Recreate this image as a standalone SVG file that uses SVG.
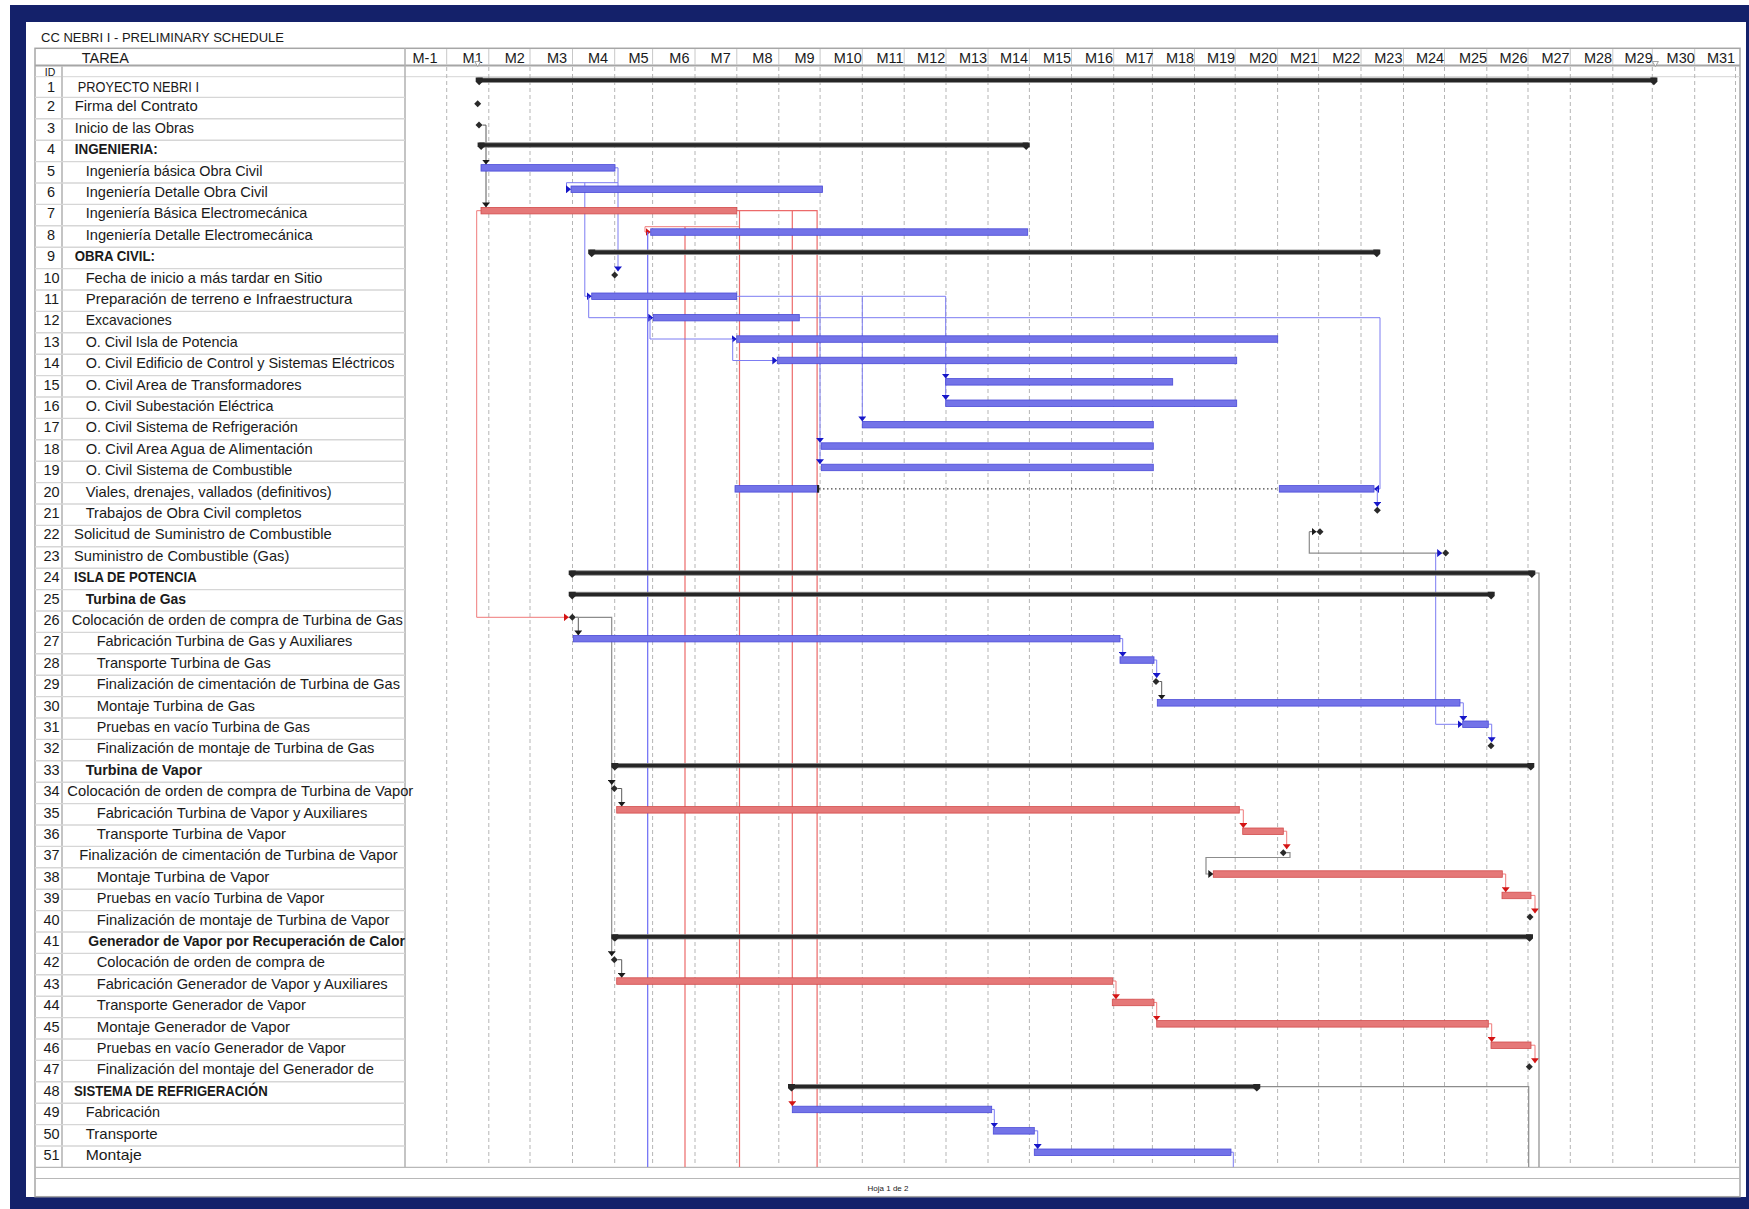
<svg xmlns="http://www.w3.org/2000/svg" xmlns:xlink="http://www.w3.org/1999/xlink" width="1749" height="1209" viewBox="0 0 1749 1209">
<style>
text{font-family:"Liberation Sans",Arial,sans-serif;fill:#1a1a1a}
.n{font-size:14.5px;text-anchor:middle}
.t{font-size:14.5px}
.b{font-weight:bold}
.mh{font-size:14.5px;text-anchor:middle}
.bb{fill:#7373e8;stroke:#4b4bd8;stroke-width:0.8}
.rb{fill:#e57878;stroke:#d24b4b;stroke-width:0.8}
.sm{fill:#262626;stroke:#8a8a8a;stroke-width:0.8}
.cap{fill:#262626}
.ms{fill:#2a2a2a}
.lb{fill:none;stroke:#7c7cf2;stroke-width:1}
.lr{fill:none;stroke:#ef7a7a;stroke-width:1}
.lk{fill:none;stroke:#5a5a5a;stroke-width:1}
.lg{fill:none;stroke:#8c8c8c;stroke-width:1.2}
.vb{fill:none;stroke:#6b6bf5;stroke-width:1.2}
.vr{fill:none;stroke:#ec6a6a;stroke-width:1.2}
.grid line{stroke:#b5b5b5;stroke-width:1;stroke-dasharray:4 3}
.hd line{stroke:#c8c8c8;stroke-width:1}
.rl line{stroke:#d6d6d6;stroke-width:1.4}
.fr{fill:none;stroke:#a6a6a6;stroke-width:1.5}
</style>
<defs>
<marker id="mB" viewBox="0 0 5 8" refX="5" refY="4" markerWidth="5" markerHeight="8" markerUnits="userSpaceOnUse" orient="auto"><path d="M0,0 L5,4 L0,8 Z" fill="#1616c8"/></marker>
<marker id="mR" viewBox="0 0 5 8" refX="5" refY="4" markerWidth="5" markerHeight="8" markerUnits="userSpaceOnUse" orient="auto"><path d="M0,0 L5,4 L0,8 Z" fill="#d41414"/></marker>
<marker id="mK" viewBox="0 0 5 8" refX="5" refY="4" markerWidth="5" markerHeight="8" markerUnits="userSpaceOnUse" orient="auto"><path d="M0,0 L5,4 L0,8 Z" fill="#1a1a1a"/></marker>
<path id="dia" d="M0,-3.5 L3.5,0 L0,3.5 L-3.5,0 Z"/>
<path id="cap" d="M-3.5,-2.6 H3.5 V1.6 L0,5 L-3.5,1.6 Z"/>
</defs>

<!-- background and frame -->
<rect x="0" y="0" width="1749" height="1209" fill="#ffffff"/>
<rect x="10" y="5" width="1739" height="1204" fill="#14216a"/>
<rect x="26" y="22" width="1720" height="1175" fill="#ffffff"/>
<text x="41" y="41.7" style="font-size:13px">CC NEBRI I - PRELIMINARY SCHEDULE</text>
<rect class="fr" x="35" y="48.3" width="1705" height="1148.4"/>
<line x1="35" y1="65.5" x2="1740" y2="65.5" stroke="#a6a6a6" stroke-width="2"/>
<line x1="35" y1="76.7" x2="1740" y2="76.7" stroke="#d6d6d6" stroke-width="1"/>
<line x1="405" y1="48.3" x2="405" y2="1167.4" stroke="#b0b0b0" stroke-width="1.5"/>
<line x1="62" y1="66" x2="62" y2="1167.4" stroke="#c4c4c4" stroke-width="2"/>
<line x1="35" y1="1167.4" x2="1740" y2="1167.4" stroke="#b8b8b8" stroke-width="1.2"/>
<line x1="35" y1="1178.5" x2="1740" y2="1178.5" stroke="#b8b8b8" stroke-width="1.2"/>
<text x="888" y="1190.5" style="font-size:8px;text-anchor:middle">Hoja 1 de 2</text>

<!-- header -->
<g id="header">
<text x="81.7" y="63" class="t">TAREA</text>
<g class="hd">
<line x1="446.7" y1="49" x2="446.7" y2="65"/><line x1="488.8" y1="49" x2="488.8" y2="65"/><line x1="530" y1="49" x2="530" y2="65"/><line x1="572.5" y1="49" x2="572.5" y2="65"/><line x1="614.7" y1="49" x2="614.7" y2="65"/><line x1="652.6" y1="49" x2="652.6" y2="65"/><line x1="695" y1="49" x2="695" y2="65"/><line x1="736.8" y1="49" x2="736.8" y2="65"/><line x1="778.8" y1="49" x2="778.8" y2="65"/><line x1="820.1" y1="49" x2="820.1" y2="65"/><line x1="862.3" y1="49" x2="862.3" y2="65"/><line x1="904.2" y1="49" x2="904.2" y2="65"/><line x1="946" y1="49" x2="946" y2="65"/><line x1="988" y1="49" x2="988" y2="65"/><line x1="1029.4" y1="49" x2="1029.4" y2="65"/><line x1="1071.5" y1="49" x2="1071.5" y2="65"/><line x1="1113.7" y1="49" x2="1113.7" y2="65"/><line x1="1152.4" y1="49" x2="1152.4" y2="65"/><line x1="1194.5" y1="49" x2="1194.5" y2="65"/><line x1="1235.2" y1="49" x2="1235.2" y2="65"/><line x1="1277.6" y1="49" x2="1277.6" y2="65"/><line x1="1318.6" y1="49" x2="1318.6" y2="65"/><line x1="1361" y1="49" x2="1361" y2="65"/><line x1="1403.5" y1="49" x2="1403.5" y2="65"/><line x1="1444.5" y1="49" x2="1444.5" y2="65"/><line x1="1486.8" y1="49" x2="1486.8" y2="65"/><line x1="1528" y1="49" x2="1528" y2="65"/><line x1="1570.3" y1="49" x2="1570.3" y2="65"/><line x1="1612.8" y1="49" x2="1612.8" y2="65"/><line x1="1652.3" y1="49" x2="1652.3" y2="65"/><line x1="1694.7" y1="49" x2="1694.7" y2="65"/>
</g>
<text class="mh" x="425" y="63">M-1</text><text class="mh" x="472.7" y="63">M1</text><text class="mh" x="514.8" y="63">M2</text><text class="mh" x="557" y="63">M3</text><text class="mh" x="598" y="63">M4</text><text class="mh" x="638.5" y="63">M5</text><text class="mh" x="679.4" y="63">M6</text><text class="mh" x="720.7" y="63">M7</text><text class="mh" x="762.4" y="63">M8</text><text class="mh" x="804.5" y="63">M9</text><text class="mh" x="847.8" y="63">M10</text><text class="mh" x="890" y="63">M11</text><text class="mh" x="931.2" y="63">M12</text><text class="mh" x="973" y="63">M13</text><text class="mh" x="1014" y="63">M14</text><text class="mh" x="1057" y="63">M15</text><text class="mh" x="1099" y="63">M16</text><text class="mh" x="1139.5" y="63">M17</text><text class="mh" x="1180" y="63">M18</text><text class="mh" x="1221" y="63">M19</text><text class="mh" x="1263" y="63">M20</text><text class="mh" x="1304" y="63">M21</text><text class="mh" x="1346.3" y="63">M22</text><text class="mh" x="1388.4" y="63">M23</text><text class="mh" x="1430" y="63">M24</text><text class="mh" x="1473" y="63">M25</text><text class="mh" x="1513.5" y="63">M26</text><text class="mh" x="1555.5" y="63">M27</text><text class="mh" x="1598" y="63">M28</text><text class="mh" x="1638.6" y="63">M29</text><text class="mh" x="1680.7" y="63">M30</text><text class="mh" x="1721" y="63">M31</text>
<polygon points="474.7,61.5 480.7,61.5 477.7,66.5" fill="#ffffff" stroke="#8c8c8c" stroke-width="0.8"/>
<polygon points="1652.4,61.5 1658.4,61.5 1655.4,66.5" fill="#ffffff" stroke="#8c8c8c" stroke-width="0.8"/>
<text class="n" x="50" y="76" style="font-size:10.5px">ID</text>
</g>

<!-- row separators in the task table -->
<g class="rl">
<line x1="35" y1="97.4" x2="405" y2="97.4"/><line x1="35" y1="118.8" x2="405" y2="118.8"/><line x1="35" y1="140.2" x2="405" y2="140.2"/><line x1="35" y1="161.6" x2="405" y2="161.6"/><line x1="35" y1="183" x2="405" y2="183"/><line x1="35" y1="204.4" x2="405" y2="204.4"/><line x1="35" y1="225.8" x2="405" y2="225.8"/><line x1="35" y1="247.2" x2="405" y2="247.2"/><line x1="35" y1="268.6" x2="405" y2="268.6"/><line x1="35" y1="290" x2="405" y2="290"/><line x1="35" y1="311.4" x2="405" y2="311.4"/><line x1="35" y1="332.8" x2="405" y2="332.8"/><line x1="35" y1="354.2" x2="405" y2="354.2"/><line x1="35" y1="375.6" x2="405" y2="375.6"/><line x1="35" y1="397" x2="405" y2="397"/><line x1="35" y1="418.4" x2="405" y2="418.4"/><line x1="35" y1="439.8" x2="405" y2="439.8"/><line x1="35" y1="461.2" x2="405" y2="461.2"/><line x1="35" y1="482.6" x2="405" y2="482.6"/><line x1="35" y1="504" x2="405" y2="504"/><line x1="35" y1="525.4" x2="405" y2="525.4"/><line x1="35" y1="546.8" x2="405" y2="546.8"/><line x1="35" y1="568.2" x2="405" y2="568.2"/><line x1="35" y1="589.6" x2="405" y2="589.6"/><line x1="35" y1="611" x2="405" y2="611"/><line x1="35" y1="632.4" x2="405" y2="632.4"/><line x1="35" y1="653.8" x2="405" y2="653.8"/><line x1="35" y1="675.2" x2="405" y2="675.2"/><line x1="35" y1="696.6" x2="405" y2="696.6"/><line x1="35" y1="718" x2="405" y2="718"/><line x1="35" y1="739.4" x2="405" y2="739.4"/><line x1="35" y1="760.8" x2="405" y2="760.8"/><line x1="35" y1="782.2" x2="405" y2="782.2"/><line x1="35" y1="803.6" x2="405" y2="803.6"/><line x1="35" y1="825" x2="405" y2="825"/><line x1="35" y1="846.4" x2="405" y2="846.4"/><line x1="35" y1="867.8" x2="405" y2="867.8"/><line x1="35" y1="889.2" x2="405" y2="889.2"/><line x1="35" y1="910.6" x2="405" y2="910.6"/><line x1="35" y1="932" x2="405" y2="932"/><line x1="35" y1="953.4" x2="405" y2="953.4"/><line x1="35" y1="974.8" x2="405" y2="974.8"/><line x1="35" y1="996.2" x2="405" y2="996.2"/><line x1="35" y1="1017.6" x2="405" y2="1017.6"/><line x1="35" y1="1039" x2="405" y2="1039"/><line x1="35" y1="1060.4" x2="405" y2="1060.4"/><line x1="35" y1="1081.8" x2="405" y2="1081.8"/><line x1="35" y1="1103.2" x2="405" y2="1103.2"/><line x1="35" y1="1124.6" x2="405" y2="1124.6"/><line x1="35" y1="1146" x2="405" y2="1146"/>
</g>

<!-- month grid -->
<g class="grid">
<line x1="446.7" y1="67" x2="446.7" y2="1166"/><line x1="488.8" y1="67" x2="488.8" y2="1166"/><line x1="530" y1="67" x2="530" y2="1166"/><line x1="572.5" y1="67" x2="572.5" y2="1166"/><line x1="614.7" y1="67" x2="614.7" y2="1166"/><line x1="652.6" y1="67" x2="652.6" y2="1166"/><line x1="695" y1="67" x2="695" y2="1166"/><line x1="736.8" y1="67" x2="736.8" y2="1166"/><line x1="778.8" y1="67" x2="778.8" y2="1166"/><line x1="820.1" y1="67" x2="820.1" y2="1166"/><line x1="862.3" y1="67" x2="862.3" y2="1166"/><line x1="904.2" y1="67" x2="904.2" y2="1166"/><line x1="946" y1="67" x2="946" y2="1166"/><line x1="988" y1="67" x2="988" y2="1166"/><line x1="1029.4" y1="67" x2="1029.4" y2="1166"/><line x1="1071.5" y1="67" x2="1071.5" y2="1166"/><line x1="1113.7" y1="67" x2="1113.7" y2="1166"/><line x1="1152.4" y1="67" x2="1152.4" y2="1166"/><line x1="1194.5" y1="67" x2="1194.5" y2="1166"/><line x1="1235.2" y1="67" x2="1235.2" y2="1166"/><line x1="1277.6" y1="67" x2="1277.6" y2="1166"/><line x1="1318.6" y1="67" x2="1318.6" y2="1166"/><line x1="1361" y1="67" x2="1361" y2="1166"/><line x1="1403.5" y1="67" x2="1403.5" y2="1166"/><line x1="1444.5" y1="67" x2="1444.5" y2="1166"/><line x1="1486.8" y1="67" x2="1486.8" y2="1166"/><line x1="1528" y1="67" x2="1528" y2="1166"/><line x1="1570.3" y1="67" x2="1570.3" y2="1166"/><line x1="1612.8" y1="67" x2="1612.8" y2="1166"/><line x1="1652.3" y1="67" x2="1652.3" y2="1166"/><line x1="1694.7" y1="67" x2="1694.7" y2="1166"/><line x1="1735.5" y1="67" x2="1735.5" y2="1166"/>
</g>

<!-- connectors -->
<g id="connectors">
<path class="vr" d="M736.8,210.7 H817.1 V1167"/>
<path class="vr" d="M739.5,210.7 V1167"/>
<path class="vr" d="M792.3,210.7 V1106.2" marker-end="url(#mR)"/>
<path class="vr" d="M685,226.7 V1167"/>
<path class="lr" d="M739.5,226.7 H645 V232 H650.7" marker-end="url(#mR)"/>
<path class="vb" d="M647.7,232 V1167"/>
<path class="lr" d="M481,210.7 H476.7 V617.3 H568.8" marker-end="url(#mR)"/>
<path class="lk" d="M482.5,125.1 H486 V164.6" marker-end="url(#mK)"/>
<path class="lk" d="M486,164.6 V207.4" marker-end="url(#mK)"/>
<path class="lb" d="M615,167.8 H618 V182.7 H566.5 V189.3 H571" marker-end="url(#mB)"/>
<path class="lb" d="M618,182.7 V271.4" marker-end="url(#mB)"/>
<path class="lb" d="M584.8,182.7 V296.3 H591.7" marker-end="url(#mB)"/>
<path class="lb" d="M588.7,296.3 V317.7 H653.3" marker-end="url(#mB)"/>
<path class="lb" d="M650,317.7 V339 H736.7" marker-end="url(#mB)"/>
<path class="lb" d="M732.7,339 V360.5 H777.3" marker-end="url(#mB)"/>
<path class="lb" d="M736.7,296.3 H945.7 V378.6" marker-end="url(#mB)"/>
<path class="lb" d="M945.7,378.6 V400" marker-end="url(#mB)"/>
<path class="lb" d="M820,296.3 V442.8" marker-end="url(#mB)"/>
<path class="lb" d="M820,442.8 V464.2" marker-end="url(#mB)"/>
<path class="lb" d="M862.3,296.3 V421.4" marker-end="url(#mB)"/>
<path class="lb" d="M799.3,317.7 H1380 V488.9 H1374" marker-end="url(#mB)"/>
<path class="lb" d="M1377.3,488.9 V506.8" marker-end="url(#mB)"/>
<path fill="none" stroke="#444" stroke-width="1.2" stroke-dasharray="1.5 2.5" d="M819,488.9 H1279.3"/>
<path class="lk" d="M1309.3,531.7 H1316.5" marker-end="url(#mK)"/>
<path class="lg" d="M1309.3,531.7 V553.1 H1442.2" marker-end="url(#mB)"/>
<path class="lb" d="M1435.7,553.1 V724.3 H1462.7" marker-end="url(#mB)"/>
<path class="lk" d="M575.8,617.3 H578.3 V635.4" marker-end="url(#mK)"/>
<path class="lg" d="M575.8,617.3 H611.7 V785" marker-end="url(#mK)"/>
<path class="lg" d="M611.7,785 V956.2" marker-end="url(#mK)"/>
<path class="lb" d="M1120,638.6 H1122.7 V656.8" marker-end="url(#mB)"/>
<path class="lb" d="M1154,660 H1156.7 V678" marker-end="url(#mB)"/>
<path class="lk" d="M1159.5,681.5 H1161.7 V699.6" marker-end="url(#mK)"/>
<path class="lb" d="M1460,702.8 H1463.3 V721" marker-end="url(#mB)"/>
<path class="lb" d="M1488.3,724.2 H1491.7 V742.2" marker-end="url(#mB)"/>
<path class="lk" d="M617.8,788.5 H621.7 V806.6" marker-end="url(#mK)"/>
<path class="lr" d="M1239.3,809.8 H1243.3 V828" marker-end="url(#mR)"/>
<path class="lr" d="M1283.3,831.2 H1286.7 V849.2" marker-end="url(#mR)"/>
<path class="lg" d="M1286.8,852.7 H1290 V857.5 H1206 V874 H1213.3" marker-end="url(#mK)"/>
<path class="lr" d="M1502.3,874 H1505.7 V892.2" marker-end="url(#mR)"/>
<path class="lr" d="M1531,895.4 H1535 V913.4" marker-end="url(#mR)"/>
<path class="lk" d="M617.8,959.7 H621.7 V977.8" marker-end="url(#mK)"/>
<path class="lr" d="M1112.7,981 H1116 V999.2" marker-end="url(#mR)"/>
<path class="lr" d="M1154,1002.4 H1156.7 V1020.6" marker-end="url(#mR)"/>
<path class="lr" d="M1488.3,1023.8 H1491.7 V1042" marker-end="url(#mR)"/>
<path class="lr" d="M1531,1045.2 H1535 V1063.2" marker-end="url(#mR)"/>
<path class="lg" d="M1258.3,1086.6 H1528.7 V1167"/>
<path class="lg" d="M1533.3,573 H1539 V1167"/>
<path class="lb" d="M991.7,1109.4 H994.3 V1127.6" marker-end="url(#mB)"/>
<path class="lb" d="M1034.3,1130.8 H1037.7 V1149" marker-end="url(#mB)"/>
<path class="lb" d="M1231,1152.2 H1233.3 V1167"/>
</g>

<!-- tasks -->
<g id="task-1"><text class="n" x="51" y="91.5">1</text><text class="t" x="77.7" y="91.5" textLength="121.3" lengthAdjust="spacingAndGlyphs">PROYECTO NEBRI I</text><rect class="sm" x="477.7" y="78" width="1177.7" height="4.4"/><use href="#cap" class="cap" x="479.2" y="80.2"/><use href="#cap" class="cap" x="1653.9" y="80.2"/></g>
<g id="task-2"><text class="n" x="51" y="111.4">2</text><text class="t" x="74.7" y="111.4" textLength="123" lengthAdjust="spacingAndGlyphs">Firma del Contrato</text><use href="#dia" class="ms" x="477.7" y="103.7"/></g>
<g id="task-3"><text class="n" x="51" y="132.8">3</text><text class="t" x="74.7" y="132.8" textLength="119.3" lengthAdjust="spacingAndGlyphs">Inicio de las Obras</text><use href="#dia" class="ms" x="479" y="125.1"/></g>
<g id="task-4"><text class="n" x="51" y="154.2">4</text><text class="t b" x="74.7" y="154.2" textLength="83" lengthAdjust="spacingAndGlyphs">INGENIERIA:</text><rect class="sm" x="479.6" y="142.8" width="548.1" height="4.4"/><use href="#cap" class="cap" x="481.1" y="145"/><use href="#cap" class="cap" x="1026.2" y="145"/></g>
<g id="task-5"><text class="n" x="51" y="175.6">5</text><text class="t" x="85.7" y="175.6" textLength="176.7" lengthAdjust="spacingAndGlyphs">Ingeniería básica Obra Civil</text><rect class="bb" x="481" y="164.6" width="134" height="6.5"/></g>
<g id="task-6"><text class="n" x="51" y="197">6</text><text class="t" x="85.7" y="197" textLength="182" lengthAdjust="spacingAndGlyphs">Ingeniería Detalle Obra Civil</text><rect class="bb" x="571" y="186" width="251.5" height="6.5"/></g>
<g id="task-7"><text class="n" x="51" y="218.4">7</text><text class="t" x="85.7" y="218.4" textLength="221.7" lengthAdjust="spacingAndGlyphs">Ingeniería Básica Electromecánica</text><rect class="rb" x="481" y="207.4" width="255.8" height="6.5"/></g>
<g id="task-8"><text class="n" x="51" y="239.8">8</text><text class="t" x="85.7" y="239.8" textLength="227" lengthAdjust="spacingAndGlyphs">Ingeniería Detalle Electromecánica</text><rect class="bb" x="650.7" y="228.8" width="377" height="6.5"/></g>
<g id="task-9"><text class="n" x="51" y="261.2">9</text><text class="t b" x="74.7" y="261.2" textLength="80.3" lengthAdjust="spacingAndGlyphs">OBRA CIVIL:</text><rect class="sm" x="590.2" y="250" width="788.1" height="4.4"/><use href="#cap" class="cap" x="591.7" y="252.2"/><use href="#cap" class="cap" x="1376.8" y="252.2"/></g>
<g id="task-10"><text class="n" x="51.5" y="282.6">10</text><text class="t" x="85.7" y="282.6" textLength="236.7" lengthAdjust="spacingAndGlyphs">Fecha de inicio a más tardar en Sitio</text><use href="#dia" class="ms" x="614.7" y="274.9"/></g>
<g id="task-11"><text class="n" x="51.5" y="304">11</text><text class="t" x="85.7" y="304" textLength="266.7" lengthAdjust="spacingAndGlyphs">Preparación de terreno e Infraestructura</text><rect class="bb" x="591.7" y="293" width="145" height="6.5"/></g>
<g id="task-12"><text class="n" x="51.5" y="325.4">12</text><text class="t" x="85.7" y="325.4" textLength="86" lengthAdjust="spacingAndGlyphs">Excavaciones</text><rect class="bb" x="653.3" y="314.4" width="146" height="6.5"/></g>
<g id="task-13"><text class="n" x="51.5" y="346.8">13</text><text class="t" x="85.7" y="346.8" textLength="152" lengthAdjust="spacingAndGlyphs">O. Civil Isla de Potencia</text><rect class="bb" x="736.7" y="335.8" width="541" height="6.5"/></g>
<g id="task-14"><text class="n" x="51.5" y="368.2">14</text><text class="t" x="85.7" y="368.2" textLength="308.7" lengthAdjust="spacingAndGlyphs">O. Civil Edificio de Control y Sistemas Eléctricos</text><rect class="bb" x="777.3" y="357.2" width="459.4" height="6.5"/></g>
<g id="task-15"><text class="n" x="51.5" y="389.6">15</text><text class="t" x="85.7" y="389.6" textLength="216" lengthAdjust="spacingAndGlyphs">O. Civil Area de Transformadores</text><rect class="bb" x="945.7" y="378.6" width="227" height="6.5"/></g>
<g id="task-16"><text class="n" x="51.5" y="411">16</text><text class="t" x="85.7" y="411" textLength="187.7" lengthAdjust="spacingAndGlyphs">O. Civil Subestación Eléctrica</text><rect class="bb" x="945.7" y="400" width="291" height="6.5"/></g>
<g id="task-17"><text class="n" x="51.5" y="432.4">17</text><text class="t" x="85.7" y="432.4" textLength="212" lengthAdjust="spacingAndGlyphs">O. Civil Sistema de Refrigeración</text><rect class="bb" x="862.3" y="421.4" width="291" height="6.5"/></g>
<g id="task-18"><text class="n" x="51.5" y="453.8">18</text><text class="t" x="85.7" y="453.8" textLength="227" lengthAdjust="spacingAndGlyphs">O. Civil Area Agua de Alimentación</text><rect class="bb" x="821.3" y="442.8" width="332" height="6.5"/></g>
<g id="task-19"><text class="n" x="51.5" y="475.2">19</text><text class="t" x="85.7" y="475.2" textLength="206.7" lengthAdjust="spacingAndGlyphs">O. Civil Sistema de Combustible</text><rect class="bb" x="821.3" y="464.2" width="332" height="6.5"/></g>
<g id="task-20"><text class="n" x="51.5" y="496.6">20</text><text class="t" x="85.7" y="496.6" textLength="246" lengthAdjust="spacingAndGlyphs">Viales, drenajes, vallados (definitivos)</text><rect class="bb" x="735" y="485.6" width="83.3" height="6.5"/><rect x="817" y="485" width="2.2" height="7.6" fill="#222"/><rect class="bb" x="1279.3" y="485.6" width="94.7" height="6.5"/></g>
<g id="task-21"><text class="n" x="51.5" y="518">21</text><text class="t" x="85.7" y="518" textLength="216" lengthAdjust="spacingAndGlyphs">Trabajos de Obra Civil completos</text><use href="#dia" class="ms" x="1377.3" y="510.3"/></g>
<g id="task-22"><text class="n" x="51.5" y="539.4">22</text><text class="t" x="74" y="539.4" textLength="257.7" lengthAdjust="spacingAndGlyphs">Solicitud de Suministro de Combustible</text><use href="#dia" class="ms" x="1320" y="531.7"/></g>
<g id="task-23"><text class="n" x="51.5" y="560.8">23</text><text class="t" x="74" y="560.8" textLength="215.3" lengthAdjust="spacingAndGlyphs">Suministro de Combustible (Gas)</text><use href="#dia" class="ms" x="1445.7" y="553.1"/></g>
<g id="task-24"><text class="n" x="51.5" y="582.2">24</text><text class="t b" x="74" y="582.2" textLength="122.7" lengthAdjust="spacingAndGlyphs">ISLA DE POTENCIA</text><rect class="sm" x="570.7" y="570.8" width="962.6" height="4.4"/><use href="#cap" class="cap" x="572.2" y="573"/><use href="#cap" class="cap" x="1531.8" y="573"/></g>
<g id="task-25"><text class="n" x="51.5" y="603.6">25</text><text class="t b" x="85.7" y="603.6" textLength="100.3" lengthAdjust="spacingAndGlyphs">Turbina de Gas</text><rect class="sm" x="570.7" y="592.2" width="922" height="4.4"/><use href="#cap" class="cap" x="572.2" y="594.4"/><use href="#cap" class="cap" x="1491.2" y="594.4"/></g>
<g id="task-26"><text class="n" x="51.5" y="625">26</text><text class="t" x="71.7" y="625" textLength="331" lengthAdjust="spacingAndGlyphs">Colocación de orden de compra de Turbina de Gas</text><use href="#dia" class="ms" x="572.3" y="617.3"/></g>
<g id="task-27"><text class="n" x="51.5" y="646.4">27</text><text class="t" x="96.7" y="646.4" textLength="255.7" lengthAdjust="spacingAndGlyphs">Fabricación Turbina de Gas y Auxiliares</text><rect class="bb" x="573.3" y="635.4" width="546.7" height="6.5"/></g>
<g id="task-28"><text class="n" x="51.5" y="667.8">28</text><text class="t" x="96.7" y="667.8" textLength="174" lengthAdjust="spacingAndGlyphs">Transporte Turbina de Gas</text><rect class="bb" x="1120" y="656.8" width="34" height="6.5"/></g>
<g id="task-29"><text class="n" x="51.5" y="689.2">29</text><text class="t" x="96.7" y="689.2" textLength="303.3" lengthAdjust="spacingAndGlyphs">Finalización de cimentación de Turbina de Gas</text><use href="#dia" class="ms" x="1156" y="681.5"/></g>
<g id="task-30"><text class="n" x="51.5" y="710.6">30</text><text class="t" x="96.7" y="710.6" textLength="158.3" lengthAdjust="spacingAndGlyphs">Montaje Turbina de Gas</text><rect class="bb" x="1157.3" y="699.6" width="302.7" height="6.5"/></g>
<g id="task-31"><text class="n" x="51.5" y="732">31</text><text class="t" x="96.7" y="732" textLength="213.3" lengthAdjust="spacingAndGlyphs">Pruebas en vacío Turbina de Gas</text><rect class="bb" x="1462.7" y="721" width="25.6" height="6.5"/></g>
<g id="task-32"><text class="n" x="51.5" y="753.4">32</text><text class="t" x="96.7" y="753.4" textLength="277.7" lengthAdjust="spacingAndGlyphs">Finalización de montaje de Turbina de Gas</text><use href="#dia" class="ms" x="1491" y="745.7"/></g>
<g id="task-33"><text class="n" x="51.5" y="774.8">33</text><text class="t b" x="85.7" y="774.8" textLength="116.3" lengthAdjust="spacingAndGlyphs">Turbina de Vapor</text><rect class="sm" x="613.3" y="763.4" width="919" height="4.4"/><use href="#cap" class="cap" x="614.8" y="765.6"/><use href="#cap" class="cap" x="1530.8" y="765.6"/></g>
<g id="task-34"><text class="n" x="51.5" y="796.2">34</text><text class="t" x="67.3" y="796.2" textLength="346" lengthAdjust="spacingAndGlyphs">Colocación de orden de compra de Turbina de Vapor</text><use href="#dia" class="ms" x="614.3" y="788.5"/></g>
<g id="task-35"><text class="n" x="51.5" y="817.6">35</text><text class="t" x="96.7" y="817.6" textLength="270.7" lengthAdjust="spacingAndGlyphs">Fabricación Turbina de Vapor y Auxiliares</text><rect class="rb" x="616.7" y="806.6" width="622.6" height="6.5"/></g>
<g id="task-36"><text class="n" x="51.5" y="839">36</text><text class="t" x="96.7" y="839" textLength="189.3" lengthAdjust="spacingAndGlyphs">Transporte Turbina de Vapor</text><rect class="rb" x="1242.7" y="828" width="40.6" height="6.5"/></g>
<g id="task-37"><text class="n" x="51.5" y="860.4">37</text><text class="t" x="79.3" y="860.4" textLength="318.3" lengthAdjust="spacingAndGlyphs">Finalización de cimentación de Turbina de Vapor</text><use href="#dia" class="ms" x="1283.3" y="852.7"/></g>
<g id="task-38"><text class="n" x="51.5" y="881.8">38</text><text class="t" x="96.7" y="881.8" textLength="172.7" lengthAdjust="spacingAndGlyphs">Montaje Turbina de Vapor</text><rect class="rb" x="1213.3" y="870.8" width="289" height="6.5"/></g>
<g id="task-39"><text class="n" x="51.5" y="903.2">39</text><text class="t" x="96.7" y="903.2" textLength="227.7" lengthAdjust="spacingAndGlyphs">Pruebas en vacío Turbina de Vapor</text><rect class="rb" x="1502" y="892.2" width="29" height="6.5"/></g>
<g id="task-40"><text class="n" x="51.5" y="924.6">40</text><text class="t" x="96.7" y="924.6" textLength="292.7" lengthAdjust="spacingAndGlyphs">Finalización de montaje de Turbina de Vapor</text><use href="#dia" class="ms" x="1530" y="916.9"/></g>
<g id="task-41"><text class="n" x="51.5" y="946">41</text><text class="t b" x="88.3" y="946" textLength="316.7" lengthAdjust="spacingAndGlyphs">Generador de Vapor por Recuperación de Calor</text><rect class="sm" x="613.3" y="934.6" width="917.7" height="4.4"/><use href="#cap" class="cap" x="614.8" y="936.8"/><use href="#cap" class="cap" x="1529.5" y="936.8"/></g>
<g id="task-42"><text class="n" x="51.5" y="967.4">42</text><text class="t" x="96.7" y="967.4" textLength="228.3" lengthAdjust="spacingAndGlyphs">Colocación de orden de compra de</text><use href="#dia" class="ms" x="614.3" y="959.7"/></g>
<g id="task-43"><text class="n" x="51.5" y="988.8">43</text><text class="t" x="96.7" y="988.8" textLength="291" lengthAdjust="spacingAndGlyphs">Fabricación Generador de Vapor y Auxiliares</text><rect class="rb" x="616.7" y="977.8" width="496" height="6.5"/></g>
<g id="task-44"><text class="n" x="51.5" y="1010.2">44</text><text class="t" x="96.7" y="1010.2" textLength="209.3" lengthAdjust="spacingAndGlyphs">Transporte Generador de Vapor</text><rect class="rb" x="1112.3" y="999.2" width="41.7" height="6.5"/></g>
<g id="task-45"><text class="n" x="51.5" y="1031.6">45</text><text class="t" x="96.7" y="1031.6" textLength="193.3" lengthAdjust="spacingAndGlyphs">Montaje Generador de Vapor</text><rect class="rb" x="1156.7" y="1020.6" width="331.6" height="6.5"/></g>
<g id="task-46"><text class="n" x="51.5" y="1053">46</text><text class="t" x="96.7" y="1053" textLength="249" lengthAdjust="spacingAndGlyphs">Pruebas en vacío Generador de Vapor</text><rect class="rb" x="1491" y="1042" width="40" height="6.5"/></g>
<g id="task-47"><text class="n" x="51.5" y="1074.4">47</text><text class="t" x="96.7" y="1074.4" textLength="277.3" lengthAdjust="spacingAndGlyphs">Finalización del montaje del Generador de</text><use href="#dia" class="ms" x="1529.3" y="1066.7"/></g>
<g id="task-48"><text class="n" x="51.5" y="1095.8">48</text><text class="t b" x="74" y="1095.8" textLength="193.7" lengthAdjust="spacingAndGlyphs">SISTEMA DE REFRIGERACIÓN</text><rect class="sm" x="790" y="1084.4" width="468.3" height="4.4"/><use href="#cap" class="cap" x="791.5" y="1086.6"/><use href="#cap" class="cap" x="1256.8" y="1086.6"/></g>
<g id="task-49"><text class="n" x="51.5" y="1117.2">49</text><text class="t" x="85.7" y="1117.2" textLength="74.3" lengthAdjust="spacingAndGlyphs">Fabricación</text><rect class="bb" x="792.3" y="1106.2" width="199.4" height="6.5"/></g>
<g id="task-50"><text class="n" x="51.5" y="1138.6">50</text><text class="t" x="85.7" y="1138.6" textLength="72" lengthAdjust="spacingAndGlyphs">Transporte</text><rect class="bb" x="993.3" y="1127.6" width="41" height="6.5"/></g>
<g id="task-51"><text class="n" x="51.5" y="1160">51</text><text class="t" x="85.7" y="1160" textLength="56" lengthAdjust="spacingAndGlyphs">Montaje</text><rect class="bb" x="1034.3" y="1149" width="196.7" height="6.5"/></g>
</svg>
